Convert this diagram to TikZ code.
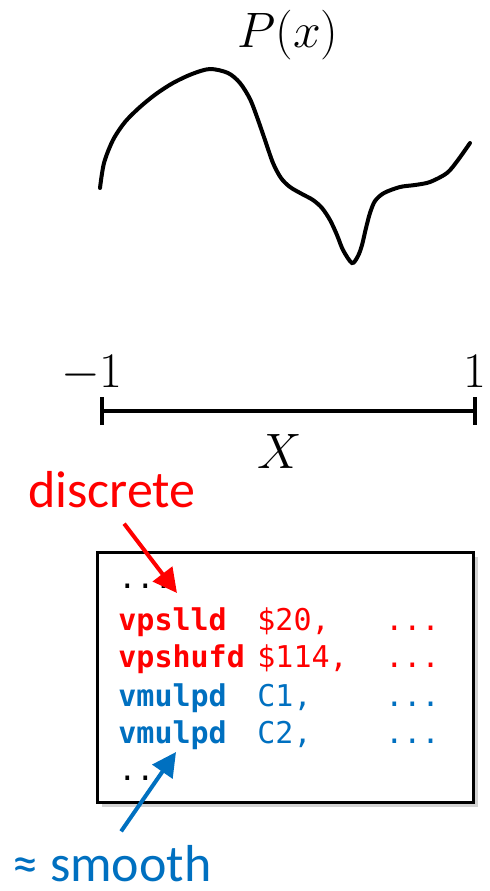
\documentclass[tikz,border=0pt]{standalone}
\usepackage{amsmath}
\usepackage{fontspec}
\setsansfont{Carlito}
\newfontfamily\codefont{DejaVu Sans Mono}
\usetikzlibrary{arrows.meta,shadows}
\definecolor{discred}{RGB}{255,0,0}
\definecolor{smoothblue}{RGB}{0,112,192}

\begin{document}
\begin{tikzpicture}[x=0.5pt,y=-0.5pt,
  mathlbl/.style={font=\fontsize{26}{30}\selectfont,inner sep=0pt,anchor=base},
  tag/.style={font=\sffamily\fontsize{26}{30}\selectfont,inner sep=0pt,anchor=base},
  codeln/.style={font=\codefont\fontsize{15}{18}\selectfont,inner sep=0pt,anchor=base west},
  callout/.style={line width=2pt,-{Triangle[length=12pt,width=12pt]}}]
  \useasboundingbox (0,0) rectangle (489,891);
  % function and interval
  \node[mathlbl] (px) at (288,47) {$P(x)$};
  \draw[line width=2pt,line cap=round] plot[smooth,tension=0.5] coordinates {
    (100,188) (104,163) (113,140) (125,122) (140,107) (156,94) (173,83)
    (192,74) (210,69) (228,73) (240,83) (250,99) (257,117) (265,140)
    (273,163) (281,178) (290,187) (302,194) (313,200) (322,208) (330,220)
    (337,235) (343,250) (352,263) (358,256) (362,245) (366,228) (370,213)
    (375,201) (384,193) (400,187) (415,185) (430,182) (447,173) (458,160) (470,143)};
  \coordinate (lo) at (100,411);
  \coordinate (hi) at (477,411);
  \draw[line width=2pt,{Bar[width=14pt]}-{Bar[width=14pt]}] (lo) -- (hi);
  \node[mathlbl] (lolbl) at (92,387) {$-1$};
  \node[mathlbl] (hilbl) at (475,387) {$1$};
  \node[mathlbl] (xlbl) at (280,468) {$X$};
  % assembly listing
  \node[draw,line width=1.5pt,fill=white,minimum width=188pt,minimum height=125pt,
    drop shadow={shadow xshift=2.5pt,shadow yshift=-2.5pt,opacity=0.35}] (box) at (285,677) {};
  \node[codeln] (dots0) at (118,588) {...};
  \node[codeln,text=discred,font=\codefont\bfseries\fontsize{15}{18}\selectfont] (ins1) at (118,630) {vpslld};
  \node[codeln,text=discred] (arg1) at (257,630) {\$20,};
  \node[codeln,text=discred] (more1) at (385,630) {...};
  \node[codeln,text=discred,font=\codefont\bfseries\fontsize{15}{18}\selectfont] (ins2) at (118,667) {vpshufd};
  \node[codeln,text=discred] (arg2) at (257,667) {\$114,};
  \node[codeln,text=discred] (more2) at (385,667) {...};
  \node[codeln,text=smoothblue,font=\codefont\bfseries\fontsize{15}{18}\selectfont] (ins3) at (118,706) {vmulpd};
  \node[codeln,text=smoothblue] (arg3) at (257,706) {C1,};
  \node[codeln,text=smoothblue] (more3) at (385,706) {...};
  \node[codeln,text=smoothblue,font=\codefont\bfseries\fontsize{15}{18}\selectfont] (ins4) at (118,743) {vmulpd};
  \node[codeln,text=smoothblue] (arg4) at (257,743) {C2,};
  \node[codeln,text=smoothblue] (more4) at (385,743) {...};
  \node[codeln] (dots5) at (118,780) {..};
  % callouts
  \node[tag,text=discred] (discrete) at (112,507) {discrete};
  \node[tag,text=smoothblue] (smooth) at (112,881) {≈ smooth};
  \coordinate (redtip) at (177,593);
  \coordinate (bluetip) at (176,752);
  \draw[callout,discred,shorten <=10pt] (discrete.south) -- (redtip);
  \draw[callout,smoothblue,shorten <=8pt] (smooth.north) -- (bluetip);
\end{tikzpicture}
\end{document}
